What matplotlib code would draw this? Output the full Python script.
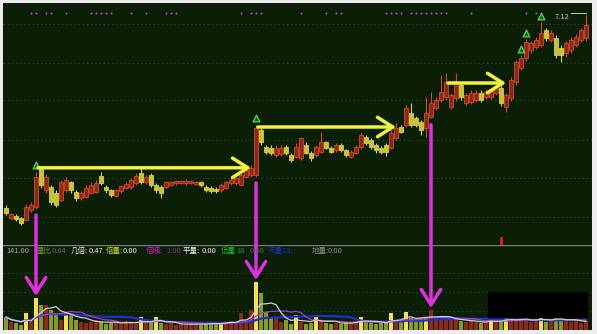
import matplotlib
matplotlib.use('Agg')
import matplotlib.pyplot as plt
from matplotlib.patches import Rectangle
import numpy as np
import pandas as pd

plt.rcParams['font.family'] = ['Noto Sans CJK SC', 'DejaVu Sans']

# 日K数据
opens = [4.71, 4.58, 4.61, 4.58, 4.56, 4.68, 4.72, 5.21, 4.93, 4.97,
         4.90, 4.81, 4.93, 5.03, 4.91, 4.83, 4.85, 4.90, 4.91, 5.11,
         4.97, 4.93, 4.86, 4.92, 4.96, 4.97, 5.02, 5.15, 5.03, 5.12,
         5.00, 4.97, 4.97, 5.00, 5.02, 5.02, 5.02, 5.02, 5.01, 5.03,
         4.97, 4.96, 4.95, 4.93, 4.96, 5.02, 5.02, 5.00, 5.10, 5.12,
         5.12, 5.68, 5.47, 5.46, 5.37, 5.38, 5.47, 5.37, 5.35, 5.33,
         5.50, 5.40, 5.37, 5.41, 5.53, 5.46, 5.43, 5.50, 5.43, 5.35,
         5.40, 5.47, 5.60, 5.56, 5.50, 5.46, 5.50, 5.46, 5.58, 5.72,
         5.75, 5.90, 5.83, 5.78, 5.71, 5.85, 5.96, 6.06, 6.10, 5.97,
         6.08, 6.25, 6.02, 6.03, 6.06, 6.15, 6.10, 6.10, 6.15, 6.21,
         5.97, 6.08, 6.28, 6.46, 6.58, 6.68, 6.72, 6.75, 6.93, 6.81,
         6.83, 6.71, 6.65, 6.68, 6.75, 6.81, 6.83]
closes = [4.65, 4.63, 4.57, 4.52, 4.72, 4.75, 5.10, 5.00, 5.10, 4.78,
          4.75, 5.03, 5.06, 4.93, 4.83, 4.90, 4.96, 5.00, 5.02, 5.02,
          4.93, 4.87, 4.93, 4.98, 5.01, 5.06, 5.11, 5.03, 5.10, 5.00,
          4.93, 4.90, 5.03, 5.03, 5.05, 5.05, 5.05, 5.05, 5.03, 5.00,
          4.93, 4.92, 4.92, 5.00, 5.03, 5.06, 5.08, 5.12, 5.18, 5.21,
          5.71, 5.53, 5.41, 5.40, 5.46, 5.46, 5.40, 5.31, 5.47, 5.58,
          5.40, 5.33, 5.47, 5.53, 5.46, 5.41, 5.50, 5.43, 5.37, 5.41,
          5.47, 5.62, 5.52, 5.47, 5.43, 5.41, 5.41, 5.65, 5.71, 5.66,
          5.96, 5.75, 5.75, 5.68, 5.90, 6.02, 6.06, 6.16, 6.28, 6.12,
          6.27, 6.10, 6.12, 6.15, 6.15, 6.06, 6.16, 6.18, 6.22, 6.02,
          6.12, 6.31, 6.53, 6.58, 6.78, 6.77, 6.81, 6.90, 6.83, 6.90,
          6.62, 6.62, 6.77, 6.81, 6.85, 6.93, 7.00]
highs = [4.74, 4.65, 4.63, 4.60, 4.76, 4.78, 5.16, 5.22, 5.13, 5.00,
         4.93, 5.06, 5.10, 5.05, 4.93, 4.92, 4.99, 5.03, 5.06, 5.16,
         5.00, 4.95, 4.95, 5.00, 5.03, 5.08, 5.14, 5.21, 5.12, 5.14,
         5.02, 4.99, 5.05, 5.05, 5.06, 5.06, 5.07, 5.06, 5.05, 5.05,
         4.99, 4.98, 4.97, 5.02, 5.05, 5.08, 5.10, 5.14, 5.20, 5.24,
         5.75, 5.72, 5.50, 5.49, 5.49, 5.50, 5.50, 5.40, 5.52, 5.60,
         5.53, 5.42, 5.50, 5.66, 5.55, 5.48, 5.52, 5.52, 5.45, 5.43,
         5.50, 5.66, 5.62, 5.58, 5.52, 5.48, 5.52, 5.68, 5.77, 5.74,
         5.99, 6.02, 5.86, 5.81, 6.10, 6.16, 6.10, 6.37, 6.40, 6.15,
         6.40, 6.28, 6.15, 6.18, 6.18, 6.18, 6.19, 6.21, 6.25, 6.24,
         6.15, 6.34, 6.56, 6.62, 6.82, 6.80, 6.85, 7.03, 6.96, 6.93,
         6.87, 6.74, 6.80, 6.84, 6.88, 6.96, 7.12]
lows = [4.62, 4.56, 4.55, 4.50, 4.54, 4.66, 4.70, 4.96, 4.90, 4.75,
        4.72, 4.79, 4.91, 4.90, 4.80, 4.81, 4.83, 4.88, 4.89, 4.99,
        4.90, 4.84, 4.84, 4.90, 4.94, 4.95, 5.00, 5.01, 5.01, 4.97,
        4.90, 4.83, 4.95, 4.98, 5.00, 5.01, 5.00, 5.01, 4.99, 4.97,
        4.91, 4.89, 4.90, 4.91, 4.94, 5.00, 5.00, 4.98, 5.08, 5.10,
        5.10, 5.50, 5.38, 5.37, 5.35, 5.36, 5.37, 5.28, 5.33, 5.31,
        5.38, 5.30, 5.35, 5.39, 5.44, 5.39, 5.41, 5.41, 5.35, 5.33,
        5.38, 5.45, 5.50, 5.44, 5.40, 5.38, 5.36, 5.44, 5.56, 5.64,
        5.72, 5.72, 5.72, 5.62, 5.60, 5.83, 5.93, 6.03, 6.06, 5.94,
        6.05, 6.06, 6.00, 6.01, 6.03, 6.03, 6.07, 6.07, 6.12, 5.98,
        5.91, 6.05, 6.25, 6.43, 6.55, 6.65, 6.70, 6.72, 6.79, 6.78,
        6.58, 6.53, 6.60, 6.65, 6.72, 6.78, 6.80]
volumes = [13, 8, 7, 5, 17, 8, 32, 25, 25, 20,
           15, 10, 17, 17, 10, 8, 7, 8, 10, 8,
           6, 7, 8, 6, 9, 7, 6, 13, 7, 8,
           13, 7, 6, 7, 5, 6, 5, 6, 7, 5,
           6, 8, 6, 7, 8, 9, 8, 17, 8, 20,
           48, 37, 18, 12, 12, 8, 10, 6, 15, 8,
           6, 7, 15, 9, 7, 6, 7, 6, 8, 7,
           9, 13, 8, 7, 6, 7, 8, 17, 10, 9,
           18, 12, 9, 12, 12, 20, 12, 11, 12, 10,
           11, 9, 8, 9, 8, 7, 8, 12, 8, 9,
           13, 10, 11, 9, 12, 8, 10, 14, 8, 10,
           12, 12, 9, 8, 10, 7, 9]

# 信号
fangliang_idx = [4, 6, 12, 27, 30, 43, 50, 58, 62, 71, 77, 80, 84, 97, 100, 107]
dot_idx = [5, 6, 8, 9, 12, 17, 18, 19, 20, 21, 25, 28, 32, 33, 34, 47, 49, 50, 51,
           59, 64, 66, 67, 76, 77, 78, 79, 81, 82, 83, 84, 85, 86, 87, 88, 93, 104, 106]
buy_idx = [6, 50, 103, 104, 107]
jump_idx = [6, 50, 85]
flat_start = [6, 50, 88]
flat_end = [49, 78, 100]
flat_level = [5.21, 5.72, 6.27]
red_flag_idx = [99]
grid_prices = [4.60, 5.08, 5.56, 6.06, 6.52, 7.01]
vol_grid = [19, 38, 57]

# 指标行: (x像素, 文字, 颜色)
info_items = [
    (6, '141.00', '#a8a8a8'),
    (37, '量比', '#7a8a30'),
    (52, '0.64', '#5a6a50'),
    (71, '几倍:', '#f0f0f0'),
    (89, '0.47', '#f0f0f0'),
    (106, '倍量:', '#d8d820'),
    (123, '0.00', '#f0f0f0'),
    (146, '倍缩:', '#d020d0'),
    (166, '1.00', '#803080'),
    (183, '平量:', '#f0f0f0'),
    (202, '0.00', '#f0f0f0'),
    (221, '低量', '#20c020'),
    (236, '10', '#20a020'),
    (250, '0.00', '#3a7a3a'),
    (268, '天量10:', '#1a30d0'),
    (312, '地量:', '#8a8a8a'),
    (328, '0.00', '#8a8a8a'),
]

bg = '#0a1f06'
W, H = 597, 334

o = np.array(opens)
c = np.array(closes)
hi = np.array(highs)
lo = np.array(lows)
v = np.array(volumes)
x = np.arange(len(c))
up = c >= o

fig = plt.figure(figsize=(W / 100, H / 100), dpi=100, facecolor='#ececec')
ax = fig.add_axes([3 / W, 89 / H, 589 / W, 242 / H], facecolor=bg)
axv = fig.add_axes([3 / W, 4 / H, 589 / W, 85 / H], facecolor=bg)

# K线
body_face = np.where(up, '#8a2a18', '#c8c238')
body_edge = np.where(up, '#d8492c', '#d8d250')
ax.vlines(x, lo, hi, colors=body_edge, lw=0.8, zorder=2)
ax.bar(x, np.maximum(np.abs(c - o), 0.012), bottom=np.minimum(o, c), width=0.62,
       color=body_face, edgecolor=body_edge, linewidth=0.6, zorder=3)

ax.set_xlim(-0.6, 117.2)
ax.set_ylim(4.245, 7.27)
ax.set_yticks(grid_prices)
ax.grid(axis='y', color='#2c4a1c', ls=(0, (2, 3)), lw=0.6)
ax.tick_params(left=False, bottom=False, labelleft=False, labelbottom=False)
for s in ax.spines.values():
    s.set_visible(False)

# 顶部紫色点
ax.scatter(dot_idx, [0.959] * len(dot_idx), transform=ax.get_xaxis_transform(),
           marker='o', s=2.2, linewidths=0, color='#c040c0', zorder=4)

# 绿色买点
ax.scatter(buy_idx, hi[buy_idx] + 0.08, marker='^', s=24, facecolor='#1c6a1c',
           edgecolor='#5ad05a', linewidth=0.9, zorder=5)

# 最高价标注
imax = int(np.argmax(hi))
ax.plot([imax - 3, imax], [hi[imax] + 0.02] * 2, color='#c8c8c8', lw=0.7, zorder=5)
ax.text(imax - 3.3, hi[imax] - 0.02, '%.2f' % hi[imax], ha='right', va='center',
        color='#c8c8c8', fontsize=5.5, zorder=5)

for i in red_flag_idx:
    ax.plot([i, i], [4.25, 4.33], color='#e02020', lw=2, zorder=4)

# 黄色水平箭头
for s0, s1, lvl in zip(flat_start, flat_end, flat_level):
    ax.annotate('', xy=(s1, lvl), xytext=(s0 + 0.4, lvl),
                arrowprops=dict(arrowstyle='->,head_length=0.55,head_width=0.35',
                                color='#f2f23c', lw=2.5, mutation_scale=20,
                                shrinkA=0, shrinkB=0), zorder=6)

# 成交量
vcol = np.where(up, '#8c2a1c', '#8a9a2a')
vcol[fangliang_idx] = '#f8e050'
axv.bar(x, v, width=0.65, color=vcol, zorder=2)
vs = pd.Series(v, dtype=float)
axv.plot(x, vs.rolling(20, min_periods=1).mean(), color='#2030c8', lw=1.6, zorder=3)
axv.plot(x, vs.rolling(10, min_periods=1).mean(), color='#a040c0', lw=0.9, zorder=3)
axv.plot(x, vs.rolling(5, min_periods=1).mean(), color='#d0d0d0', lw=0.9, zorder=3)

axv.set_xlim(-0.6, 117.2)
axv.set_ylim(0, 85)
axv.set_yticks(vol_grid)
axv.grid(axis='y', color='#2c4a1c', ls=(0, (2, 3)), lw=0.6)
axv.tick_params(left=False, bottom=False, labelleft=False, labelbottom=False)
for s in axv.spines.values():
    s.set_visible(False)
axv.axhline(85, color='#7a7a7a', lw=1.0, zorder=1)

# 遮挡块
axv.add_patch(Rectangle((0.823, 0.153), 0.168, 0.294, transform=axv.transAxes,
                        color='black', zorder=7))

# 紫色竖箭头
for i in jump_idx:
    axv.annotate('', xy=(i, v[i] + 2), xycoords='data',
                 xytext=(i, lo[i] - 0.08), textcoords=ax.transData,
                 arrowprops=dict(arrowstyle='->,head_length=0.55,head_width=0.35',
                                 color='#e030e0', lw=2.5, mutation_scale=20,
                                 shrinkA=0, shrinkB=0),
                 annotation_clip=False, zorder=8)

# 指标文字行
for px, txt, col in info_items:
    fig.text(px / W, 1 - 251 / H, txt, color=col, fontsize=5.4, va='center', ha='left')

fig.savefig('out.png', dpi=100, facecolor=fig.get_facecolor())
